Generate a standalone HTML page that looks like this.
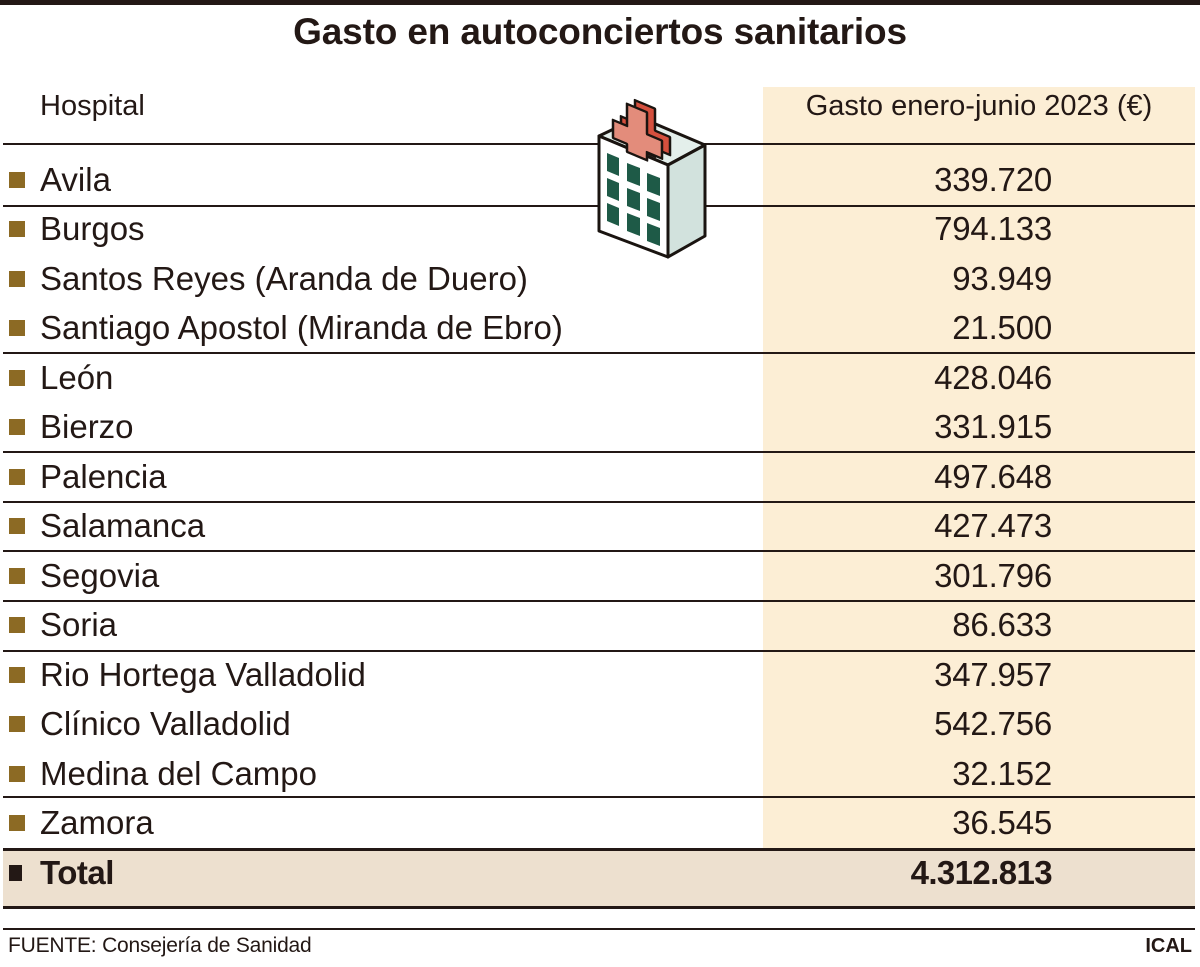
<!DOCTYPE html>
<html><head><meta charset="utf-8">
<style>
*{margin:0;padding:0;box-sizing:border-box}
body{width:1200px;height:967px;background:#fff;position:relative;overflow:hidden;font-family:"Liberation Sans",Arial,sans-serif;color:#231815}
.abs{position:absolute}
.line{position:absolute;left:3px;width:1192px;height:2px;background:#231815}
.lab{position:absolute;left:40px;font-size:33px;line-height:40px;white-space:nowrap;letter-spacing:0px}
.num{position:absolute;right:148px;font-size:33px;line-height:40px;white-space:nowrap;text-align:right;letter-spacing:-0.2px}
.bul{position:absolute;left:9px;width:16px;height:16px;background:#8C6A24}
</style></head><body>
<div class="abs" style="left:0;top:0;width:1200px;height:5px;background:#231815"></div>
<div class="abs" style="left:0;top:11px;width:1200px;text-align:center;font-size:37px;line-height:42px;font-weight:bold;letter-spacing:-0.15px">Gasto en autoconciertos sanitarios</div>

<div class="abs" style="left:763px;top:87px;width:432px;height:762px;background:#FCEED5"></div>
<div class="abs" style="left:3px;top:850px;width:1192px;height:57px;background:#EDE0CF"></div>

<div class="abs" style="left:40px;top:89px;font-size:29px;line-height:34px">Hospital</div>
<div class="abs" style="left:763px;top:89px;width:432px;text-align:center;font-size:29px;line-height:34px;letter-spacing:0px">Gasto enero-junio 2023 (€)</div>

<div class="line" style="top:143px"></div>
<div class="line" style="top:205px"></div>
<div class="line" style="top:352px"></div>
<div class="line" style="top:451px"></div>
<div class="line" style="top:501px"></div>
<div class="line" style="top:550px"></div>
<div class="line" style="top:600px"></div>
<div class="line" style="top:650px"></div>
<div class="line" style="top:796px"></div>
<div class="line" style="top:848px;height:3px"></div>
<div class="line" style="top:906px;height:3px"></div>
<div class="line" style="top:928px;height:2px"></div>

<div class="bul" style="top:172px"></div><div class="lab" style="top:160px">Avila</div><div class="num" style="top:160px">339.720</div>
<div class="bul" style="top:221px"></div><div class="lab" style="top:209px">Burgos</div><div class="num" style="top:209px">794.133</div>
<div class="bul" style="top:271px"></div><div class="lab" style="top:259px">Santos Reyes (Aranda de Duero)</div><div class="num" style="top:259px">93.949</div>
<div class="bul" style="top:320px"></div><div class="lab" style="top:308px">Santiago Apostol (Miranda de Ebro)</div><div class="num" style="top:308px">21.500</div>
<div class="bul" style="top:370px"></div><div class="lab" style="top:358px">León</div><div class="num" style="top:358px">428.046</div>
<div class="bul" style="top:419px"></div><div class="lab" style="top:407px">Bierzo</div><div class="num" style="top:407px">331.915</div>
<div class="bul" style="top:469px"></div><div class="lab" style="top:457px">Palencia</div><div class="num" style="top:457px">497.648</div>
<div class="bul" style="top:518px"></div><div class="lab" style="top:506px">Salamanca</div><div class="num" style="top:506px">427.473</div>
<div class="bul" style="top:568px"></div><div class="lab" style="top:556px">Segovia</div><div class="num" style="top:556px">301.796</div>
<div class="bul" style="top:617px"></div><div class="lab" style="top:605px">Soria</div><div class="num" style="top:605px">86.633</div>
<div class="bul" style="top:667px"></div><div class="lab" style="top:655px">Rio Hortega Valladolid</div><div class="num" style="top:655px">347.957</div>
<div class="bul" style="top:716px"></div><div class="lab" style="top:704px">Clínico Valladolid</div><div class="num" style="top:704px">542.756</div>
<div class="bul" style="top:766px"></div><div class="lab" style="top:754px">Medina del Campo</div><div class="num" style="top:754px">32.152</div>
<div class="bul" style="top:815px"></div><div class="lab" style="top:803px">Zamora</div><div class="num" style="top:803px">36.545</div>
<div class="bul" style="top:865px;width:13px;background:#231815"></div><div class="lab" style="top:853px;font-weight:bold;letter-spacing:-0.5px">Total</div><div class="num" style="top:853px;font-weight:bold;letter-spacing:-0.6px">4.312.813</div>

<div class="abs" style="left:8px;top:934px;font-size:21px;line-height:24px;letter-spacing:-0.2px">FUENTE: Consejería de Sanidad</div>
<div class="abs" style="right:8px;top:934px;font-size:20px;line-height:24px;font-weight:bold">ICAL</div>

<svg class="abs" style="left:0;top:0" width="1200" height="967" viewBox="0 0 1200 967">
  <g stroke="#1a1410" stroke-width="3" stroke-linejoin="round">
    <polygon points="599,136 639,117 705,145 668,165" fill="#E4EFEB"/>
    <polygon points="668,165 705,145 705,236 668,257" fill="#D2E2DD"/>
    <polygon points="599,136 668,165 668,257 599,231" fill="#FFFFFF"/>
  </g>
  <g fill="#1E5A47">
    <polygon points="607,153 619,158 619,176 607,171"/>
    <polygon points="627,163 640,168 640,186 627,181"/>
    <polygon points="647,173 660,178 660,196 647,191"/>
    <polygon points="607,178 619,183 619,201 607,196"/>
    <polygon points="627,188 640,193 640,211 627,206"/>
    <polygon points="647,198 660,203 660,221 647,216"/>
    <polygon points="607,203 619,208 619,226 607,221"/>
    <polygon points="627,213 640,218 640,236 627,231"/>
    <polygon points="647,223 660,228 660,246 647,241"/>
  </g>
  <g transform="translate(613,120) skewY(22.8)" stroke="#1a1410" stroke-width="2.5" stroke-linejoin="round">
    <polygon transform="translate(8,-7)" points="14,-22 34,-22 34,0 49,0 49,18 34,18 34,26 14,26 14,18 0,18 0,0 14,0" fill="#D5503E"/>
    <polygon points="14,-22 34,-22 34,0 49,0 49,18 34,18 34,26 14,26 14,18 0,18 0,0 14,0" fill="#E38C7B"/>
  </g>
</svg>
</body></html>
